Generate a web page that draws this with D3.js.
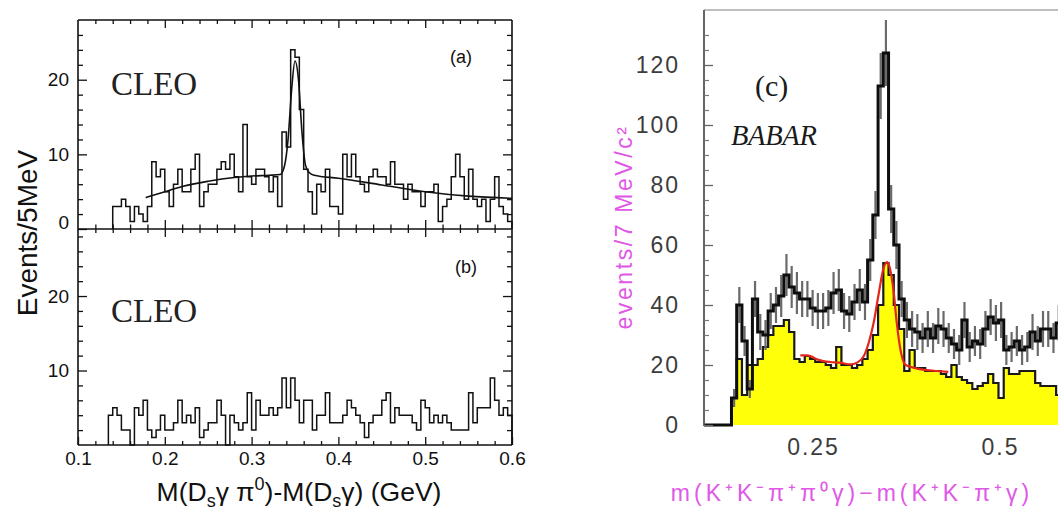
<!DOCTYPE html>
<html>
<head>
<meta charset="utf-8">
<script src="https://cdn.jsdelivr.net/npm/d3@7"></script>
<style>
  body { margin: 0; background: #fff; }
  svg { display: block; }
</style>
</head>
<body>
<svg id="chart" width="1058" height="510"></svg>
<script>
// ---- CLEO, events per 5 MeV ----
const cleoBin = 0.005;
const cleoStartA = 0.140;
const cleoCountsA = [3,3,4,3,1,3,2,1,3,9,
  7,8,5,3,6,8,5,5,8,10,
  3,5,6,6,8,9,8,10,7,5,
  14,7,6,8,8,7,5,7,3,13,
  11,24,23,16,8,5,2,6,5,8,
  3,3,2,10,7,10,7,6,5,7,
  8,7,7,6,9,6,6,4,6,5,
  5,3,5,5,6,1,3,4,7,10,
  7,4,8,4,3,4,1,4,7,3,
  2,1];
// fit curve of panel (a)
const cleoFitA = [[0.178,4.2],[0.20,5.0],[0.22,5.7],[0.25,6.4],[0.28,6.9],[0.30,7.1],
  [0.32,7.2],[0.333,7.3],[0.338,8.5],[0.342,12],[0.346,18.5],[0.350,22.5],[0.354,20],
  [0.358,13],[0.362,8.6],[0.366,7.6],[0.372,7.2],[0.40,6.8],[0.45,5.9],[0.50,5.0],
  [0.55,4.4],[0.60,4.1]];
const cleoStartB = 0.135;
const cleoCountsB = [4,5,4,2,2,0,5,4,6,2,
  1,2,4,2,2,3,6,3,4,3,
  5,1,2,3,3,6,4,0,4,3,
  2,3,7,2,6,4,4,5,4,5,
  9,5,9,6,3,6,6,2,4,4,
  7,3,3,3,4,6,5,4,3,1,
  3,4,4,6,7,3,5,4,4,4,
  3,2,6,5,3,4,3,4,3,2,
  2,2,2,7,3,5,5,5,9,6,
  4,5,4];
const cleoTicksX = [0.1,0.2,0.3,0.4,0.5,0.6];
const cleoMinorX = d3.range(0.12, 0.6, 0.02);
const cleoTicksYA = [0,10,20];
const cleoTicksYB = [10,20];

// ---- BABAR, events per 7 MeV ----
const babarBin = 0.007;
const babarStart = 0.141;
const babarAll = [9,40,28,12,42,31,30,38,40,43,
  50,46,44,42,42,39,38,38,39,44,
  45,38,37,41,45,41,55,70,113,124,
  72,60,42,35,32,31,29,32,29,33,
  32,29,27,25,35,26,28,27,32,36,
  34,35,25,26,28,25,26,31,28,32,
  32,29,34];
const babarErr = [3,6,5,3,6,6,5,6,6,7,
  7,7,7,6,6,6,6,6,6,7,
  7,6,6,6,7,6,7,8,11,11,
  8,8,6,6,6,6,5,6,5,6,
  6,5,5,5,6,5,5,5,6,6,
  6,6,5,5,5,5,5,6,5,6,
  6,5,6];
const babarSig = [9,22,10,20,20,22,26,30,33,33,
  35,31,22,21,23,22,21,21,20,19,
  26,20,20,19,20,22,25,30,40,54,
  50,40,32,18,25,19,19,18,18,18,
  17,16,20,16,15,14,12,13,14,17,
  14,9,19,17,17,18,18,18,14,13,
  13,13,10];
const babarFit = [[0.233,23.2],[0.242,23.2],[0.248,22.8],[0.255,21.9],[0.264,21.3],
  [0.273,21],[0.286,20.8],[0.300,20.2],[0.309,20.8],[0.318,23],[0.324,27],[0.331,34],
  [0.338,44],[0.344,52],[0.349,54.3],[0.352,53],[0.358,44],[0.362,34],[0.367,25],
  [0.373,20.2],[0.380,19.4],[0.389,18.8],[0.402,18.3],[0.416,18],[0.431,17.7]];
const babarTicksX = [0.25,0.5];
const babarTicksY = [0,20,40,60,80,100,120];
const babarMinorY = d3.range(5, 135, 5).filter(v => v % 20 !== 0);

const svg = d3.select("#chart");
const sans = "'Liberation Sans', Arial, Helvetica, sans-serif";
const serif = "'Liberation Serif', 'Times New Roman', serif";

// step points for a histogram that starts and ends at zero
function stepPoints(start, width, counts) {
  const pts = [[start, 0]];
  counts.forEach((c, i) => pts.push([start + i * width, c]));
  const end = start + counts.length * width;
  pts.push([end, counts[counts.length - 1]]);
  pts.push([end, 0]);
  return pts;
}

function axisNoDomain(g, axis) {
  g.call(axis);
  g.select(".domain").remove();
  return g;
}

// ================= left: CLEO =================
const xL = d3.scaleLinear().domain([0.1, 0.6]).range([78, 512]);
const yA = d3.scaleLinear().domain([0, 28]).range([229, 20]);
const yB = d3.scaleLinear().domain([0, 29]).range([445, 229]);

const left = svg.append("g");

// histograms
const lineA = d3.line().x(d => xL(d[0])).y(d => yA(d[1])).curve(d3.curveStepAfter);
const lineB = d3.line().x(d => xL(d[0])).y(d => yB(d[1])).curve(d3.curveStepAfter);
left.append("path")
  .attr("d", lineA(stepPoints(cleoStartA, cleoBin, cleoCountsA)))
  .attr("fill", "none").attr("stroke", "#111").attr("stroke-width", 1.5);
left.append("path")
  .attr("d", lineB(stepPoints(cleoStartB, cleoBin, cleoCountsB)))
  .attr("fill", "none").attr("stroke", "#111").attr("stroke-width", 1.5);
left.append("path")
  .attr("d", d3.line().x(d => xL(d[0])).y(d => yA(d[1])).curve(d3.curveMonotoneX)(cleoFitA))
  .attr("fill", "none").attr("stroke", "#111").attr("stroke-width", 1.6);

// frame
const frame = left.append("g").attr("stroke", "#111").attr("stroke-width", 1.6);
frame.append("line").attr("x1", 78).attr("x2", 78).attr("y1", 20).attr("y2", 445);
frame.append("line").attr("x1", 512).attr("x2", 512).attr("y1", 20).attr("y2", 445);
frame.append("line").attr("x1", 78).attr("x2", 512).attr("y1", 20).attr("y2", 20);
frame.append("line").attr("x1", 78).attr("x2", 512).attr("y1", 229).attr("y2", 229);
frame.append("line").attr("x1", 78).attr("x2", 512).attr("y1", 445).attr("y2", 445);

function styleAxis(g, size) {
  g.selectAll("line").attr("stroke", "#111").attr("stroke-width", 1.3);
  g.selectAll("text").attr("font-family", sans).attr("font-size", size || 19).attr("fill", "#111");
  return g;
}

// y axes (a)
const minorA = d3.range(2, 28, 2).filter(v => v % 10 !== 0);
styleAxis(axisNoDomain(left.append("g").attr("transform", "translate(78,0)"),
  d3.axisLeft(yA).tickValues(cleoTicksYA).tickSize(-9).tickPadding(9).tickFormat(d3.format("d"))))
  .selectAll("text").filter(d => d === 0).attr("dy", "-0.05em");
styleAxis(axisNoDomain(left.append("g").attr("transform", "translate(78,0)"),
  d3.axisLeft(yA).tickValues(minorA).tickSize(-5).tickFormat("")));
styleAxis(axisNoDomain(left.append("g").attr("transform", "translate(512,0)"),
  d3.axisRight(yA).tickValues(cleoTicksYA.filter(v => v > 0)).tickSize(-9).tickFormat("")));
styleAxis(axisNoDomain(left.append("g").attr("transform", "translate(512,0)"),
  d3.axisRight(yA).tickValues(minorA).tickSize(-5).tickFormat("")));

// y axes (b)
const minorB = d3.range(2, 29, 2).filter(v => v % 10 !== 0);
styleAxis(axisNoDomain(left.append("g").attr("transform", "translate(78,0)"),
  d3.axisLeft(yB).tickValues(cleoTicksYB).tickSize(-9).tickPadding(9).tickFormat(d3.format("d"))));
styleAxis(axisNoDomain(left.append("g").attr("transform", "translate(78,0)"),
  d3.axisLeft(yB).tickValues(minorB).tickSize(-5).tickFormat("")));
styleAxis(axisNoDomain(left.append("g").attr("transform", "translate(512,0)"),
  d3.axisRight(yB).tickValues(cleoTicksYB).tickSize(-9).tickFormat("")));
styleAxis(axisNoDomain(left.append("g").attr("transform", "translate(512,0)"),
  d3.axisRight(yB).tickValues(minorB).tickSize(-5).tickFormat("")));

// x ticks: top, middle (both sides), bottom with labels
const inner = cleoTicksX.slice(1, -1);
const minorX = cleoMinorX.filter(v => Math.abs(v * 10 - Math.round(v * 10)) > 1e-6);
[[20, d3.axisTop, -8, -4], [229, d3.axisBottom, -9, -4.5], [229, d3.axisTop, -8, -4]].forEach(([y, ax, maj, min]) => {
  styleAxis(axisNoDomain(left.append("g").attr("transform", `translate(0,${y})`),
    ax(xL).tickValues(inner).tickSize(maj).tickFormat("")));
  styleAxis(axisNoDomain(left.append("g").attr("transform", `translate(0,${y})`),
    ax(xL).tickValues(minorX).tickSize(min).tickFormat("")));
});
styleAxis(axisNoDomain(left.append("g").attr("transform", "translate(0,445)"),
  d3.axisBottom(xL).tickValues(cleoTicksX).tickSize(-8).tickPadding(7).tickFormat(d3.format(".1f"))));
styleAxis(axisNoDomain(left.append("g").attr("transform", "translate(0,445)"),
  d3.axisBottom(xL).tickValues(minorX).tickSize(-4).tickFormat("")));

// panel labels
left.append("text").attr("x", 111).attr("y", 95).text("CLEO")
  .attr("font-family", serif).attr("font-size", 33).attr("fill", "#222");
left.append("text").attr("x", 111).attr("y", 322).text("CLEO")
  .attr("font-family", serif).attr("font-size", 33).attr("fill", "#222");
left.append("text").attr("x", 450).attr("y", 63).text("(a)")
  .attr("font-family", sans).attr("font-size", 18).attr("fill", "#111");
left.append("text").attr("x", 455).attr("y", 273).text("(b)")
  .attr("font-family", sans).attr("font-size", 18).attr("fill", "#111");

left.append("text")
  .attr("transform", "translate(37,233) rotate(-90)")
  .attr("text-anchor", "middle")
  .attr("font-family", sans).attr("font-size", 28).attr("fill", "#111")
  .text("Events/5MeV");

const xt = left.append("text")
  .attr("x", 299).attr("y", 501).attr("text-anchor", "middle")
  .attr("font-family", sans).attr("font-size", 26.5).attr("fill", "#111");
xt.append("tspan").text("M(D");
xt.append("tspan").attr("dy", 6).attr("font-size", 18).text("s");
xt.append("tspan").attr("dy", -6).text("\u03b3 \u03c0");
xt.append("tspan").attr("dy", -11).attr("font-size", 18).text("0");
xt.append("tspan").attr("dy", 11).text(")-M(D");
xt.append("tspan").attr("dy", 6).attr("font-size", 18).text("s");
xt.append("tspan").attr("dy", -6).text("\u03b3) (GeV)");

// ================= right: BABAR =================
const xC = d3.scaleLinear().domain([0.1, 0.6]).range([700.8, 1074.8]);
const yC = d3.scaleLinear().domain([0, 120]).range([425, 65]);
const right = svg.append("g");
const axisX0 = xC.invert(704);

const sigPts = stepPoints(babarStart, babarBin, babarSig);
sigPts.unshift([axisX0, 0]);
right.append("path")
  .attr("d", d3.area().x(d => xC(d[0])).y0(yC(0)).y1(d => yC(d[1])).curve(d3.curveStepAfter)(sigPts))
  .attr("fill", "#ffff0a");
right.append("path")
  .attr("d", d3.line().x(d => xC(d[0])).y(d => yC(d[1])).curve(d3.curveStepAfter)(sigPts))
  .attr("fill", "none").attr("stroke", "#1a1a1a").attr("stroke-width", 2.2);

right.append("path")
  .attr("d", d3.line().x(d => xC(d[0])).y(d => yC(d[1])).curve(d3.curveMonotoneX)(babarFit))
  .attr("fill", "none").attr("stroke", "#e3261c").attr("stroke-width", 2.2);

// error bars of all candidates
right.append("g").selectAll("line").data(babarAll).join("line")
  .attr("x1", (d, i) => xC(babarStart + (i + 0.5) * babarBin))
  .attr("x2", (d, i) => xC(babarStart + (i + 0.5) * babarBin))
  .attr("y1", (d, i) => yC(d - babarErr[i]))
  .attr("y2", (d, i) => yC(d + babarErr[i]))
  .attr("stroke", "#6a6a6a").attr("stroke-width", 2.2);

const allPts = stepPoints(babarStart, babarBin, babarAll);
allPts.unshift([axisX0, 0]);
right.append("path")
  .attr("d", d3.line().x(d => xC(d[0])).y(d => yC(d[1])).curve(d3.curveStepAfter)(allPts))
  .attr("fill", "none").attr("stroke", "#0d0d0d").attr("stroke-width", 3);

// frame of (c)
right.append("line").attr("x1", 704).attr("x2", 1058).attr("y1", 10).attr("y2", 10)
  .attr("stroke", "#a8a8a8").attr("stroke-width", 1.5);
right.append("line").attr("x1", 704).attr("x2", 704).attr("y1", 10).attr("y2", 426)
  .attr("stroke", "#555").attr("stroke-width", 1.8);

const ay = axisNoDomain(right.append("g").attr("transform", "translate(704,0)"),
  d3.axisLeft(yC).tickValues(babarTicksY).tickSize(-9).tickPadding(24).tickFormat(d3.format("d")));
ay.selectAll("line").attr("stroke", "#666").attr("stroke-width", 1.3);
ay.selectAll("text").attr("font-family", sans).attr("font-size", 23)
  .attr("letter-spacing", 2).attr("fill", "#3c3c3c");
const ayMinor = axisNoDomain(right.append("g").attr("transform", "translate(704,0)"),
  d3.axisLeft(yC).tickValues(babarMinorY).tickSize(-5).tickFormat(""));
ayMinor.selectAll("line").attr("stroke", "#777").attr("stroke-width", 1.2);

const ax = axisNoDomain(right.append("g").attr("transform", "translate(0,425)"),
  d3.axisBottom(xC).tickValues(babarTicksX).tickSize(0).tickPadding(14).tickFormat(d => String(d)));
ax.selectAll("text").attr("font-family", sans).attr("font-size", 23)
  .attr("letter-spacing", 2).attr("fill", "#3c3c3c");

right.append("text").attr("x", 755).attr("y", 96).text("(c)")
  .attr("font-family", serif).attr("font-size", 30).attr("fill", "#1a1a1a");
right.append("text").attr("x", 731).attr("y", 145).text("BABAR")
  .attr("font-family", serif).attr("font-style", "italic").attr("font-size", 28.5)
  .attr("letter-spacing", -0.3).attr("fill", "#1a1a1a");

right.append("text")
  .attr("transform", "translate(632,227) rotate(-90)")
  .attr("text-anchor", "middle")
  .attr("font-family", sans).attr("font-size", 23).attr("letter-spacing", 2.6)
  .attr("fill", "#e058e6")
  .text("events/7 MeV/c\u00b2");
right.append("text")
  .attr("x", 852).attr("y", 501).attr("text-anchor", "middle")
  .attr("font-family", sans).attr("font-size", 23).attr("letter-spacing", 4)
  .attr("fill", "#e058e6")
  .text("m(K\u207aK\u207b\u03c0\u207a\u03c0\u2070\u03b3)\u2212m(K\u207aK\u207b\u03c0\u207a\u03b3)");
</script>
</body>
</html>
